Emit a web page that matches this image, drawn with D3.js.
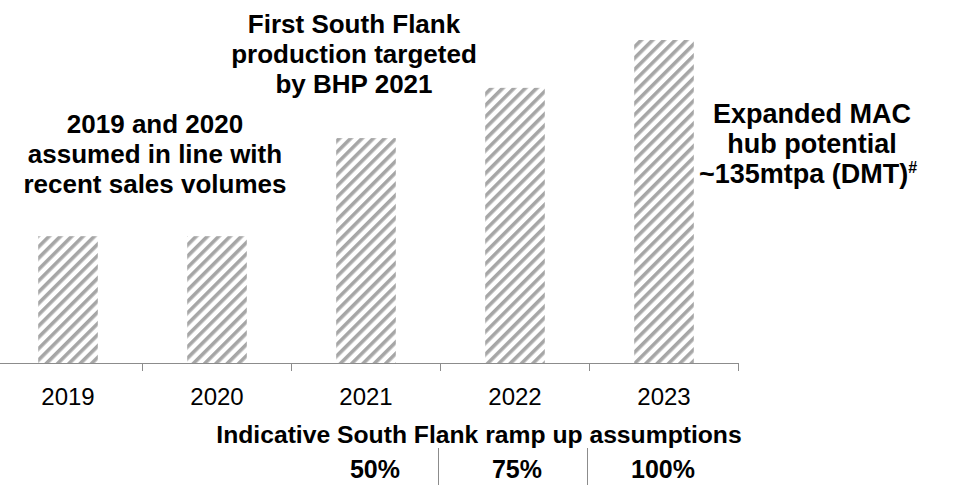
<!DOCTYPE html>
<html>
<head>
<meta charset="utf-8">
<script src="https://cdn.jsdelivr.net/npm/d3@7"></script>
<style>
  body { margin: 0; background: #fff; }
  svg { display: block; font-family: "Liberation Sans", Arial, sans-serif; }
  .bold { font-weight: bold; }
</style>
</head>
<body>
<svg width="954" height="485"></svg>
<script>
const years = ['2019', '2020', '2021', '2022', '2023'];
const volumes = [53, 53, 94, 115, 135];          // mtpa
const rampYears = ['2021', '2022', '2023'];
const rampLabels = ['50%', '75%', '100%'];

const svg = d3.select('svg');

const x = d3.scaleBand()
    .domain(years)
    .range([-6.5, 738.5])
    .paddingInner(0.6)
    .paddingOuter(0.3);

const y = d3.scaleLinear()
    .domain([0, 135])
    .range([363, 40]);

// diagonal hatch
const defs = svg.append('defs');
defs.append('pattern')
    .attr('id', 'hatch')
    .attr('patternUnits', 'userSpaceOnUse')
    .attr('width', 8)
    .attr('height', 8)
    .attr('patternTransform', 'rotate(45)')
  .append('rect')
    .attr('x', 0)
    .attr('y', 0)
    .attr('width', 3.6)
    .attr('height', 8)
    .attr('fill', '#a6a6a6');

svg.selectAll('rect.bar')
    .data(years)
    .enter().append('rect')
    .attr('class', 'bar')
    .attr('x', d => x(d))
    .attr('y', (d, i) => y(volumes[i]))
    .attr('width', x.bandwidth())
    .attr('height', (d, i) => y(0) - y(volumes[i]))
    .attr('fill', 'url(#hatch)');

// category axis: line with ticks on the band boundaries
const edge = d => x(d) + x.bandwidth() + (x.step() - x.bandwidth()) / 2;
svg.append('line')
    .attr('x1', 0).attr('x2', edge(years[years.length - 1]))
    .attr('y1', y(0) + 0.5).attr('y2', y(0) + 0.5)
    .attr('stroke', '#8c8c8c');
svg.selectAll('line.tick')
    .data(years)
    .enter().append('line')
    .attr('class', 'tick')
    .attr('x1', d => edge(d)).attr('x2', d => edge(d))
    .attr('y1', y(0)).attr('y2', y(0) + 8)
    .attr('stroke', '#8c8c8c');

svg.selectAll('text.year')
    .data(years)
    .enter().append('text')
    .attr('class', 'year')
    .attr('x', d => x(d) + x.bandwidth() / 2)
    .attr('y', 405)
    .attr('text-anchor', 'middle')
    .attr('font-size', 24)
    .text(d => d);

svg.append('text')
    .attr('class', 'bold')
    .attr('x', 479)
    .attr('y', 443)
    .attr('text-anchor', 'middle')
    .attr('font-size', 24.7)
    .text('Indicative South Flank ramp up assumptions');

svg.selectAll('text.ramp')
    .data(rampYears)
    .enter().append('text')
    .attr('class', 'ramp bold')
    .attr('x', (d, i) => x(d) + x.bandwidth() / 2 + [9, 2, -1][i])
    .attr('y', 478)
    .attr('text-anchor', 'middle')
    .attr('font-size', 25)
    .text((d, i) => rampLabels[i]);

svg.selectAll('line.sep')
    .data(rampYears.slice(0, -1))
    .enter().append('line')
    .attr('class', 'sep')
    .attr('x1', d => edge(d) - 2).attr('x2', d => edge(d) - 2)
    .attr('y1', 448).attr('y2', 485)
    .attr('stroke', '#8c8c8c');

// annotations
function note(cx, lines, y0, size) {
  const t = svg.append('text')
      .attr('class', 'bold')
      .attr('text-anchor', 'middle')
      .attr('font-size', size);
  lines.forEach((l, i) => {
    t.append('tspan').attr('x', cx).attr('y', y0 + i * 30).text(l);
  });
  return t;
}

note(155, ['2019 and 2020', 'assumed in line with', 'recent sales volumes'], 133, 26);
note(354, ['First South Flank', 'production targeted', 'by BHP 2021'], 33, 26);
const mac = note(812, ['Expanded MAC', 'hub potential'], 123, 27);
mac.append('tspan')
    .attr('x', 808).attr('y', 183)
    .text('~135mtpa (DMT)')
  .append('tspan')
    .attr('font-size', 16)
    .attr('dy', -10)
    .text('#');
</script>
</body>
</html>
